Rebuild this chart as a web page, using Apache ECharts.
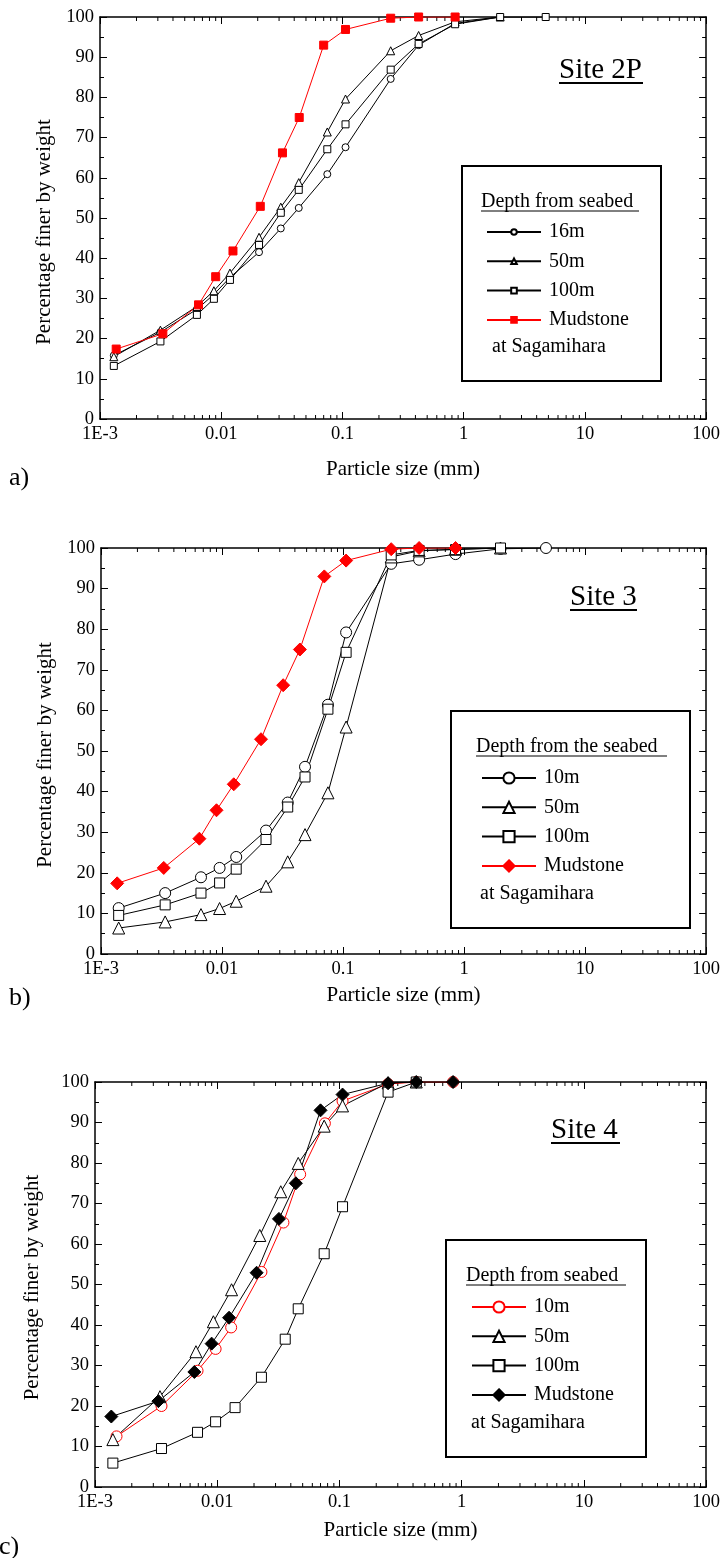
<!DOCTYPE html>
<html>
<head>
<meta charset="utf-8">
<title>Grain size distribution</title>
<script src="https://cdn.jsdelivr.net/npm/echarts@6/dist/echarts.min.js"></script>
<style>
html, body { margin: 0; padding: 0; background: #fff; }
#chart { width: 723px; height: 1558px; }
</style>
</head>
<body>
<div id="chart"></div>
<script>
// ---- data ----
const xTickLabels = ['1E-3', '0.01', '0.1', '1', '10', '100'];
const minorMultipliers = [2, 3, 4, 5, 6, 7, 8, 9];
const decades = [0.001, 0.01, 0.1, 1, 10];

// mudstone at Sagamihara (same sample in all three plots)
const mudSize = [0.00136, 0.0033, 0.0065, 0.009, 0.0125, 0.021, 0.032, 0.044, 0.07, 0.106, 0.25, 0.425, 0.85];
const mudFiner = [17.4, 21.2, 28.4, 35.4, 41.8, 52.9, 66.2, 75.0, 93.0, 96.9, 99.7, 100, 100];

// a) Site 2P
const sizeA = [0.0013, 0.00315, 0.0063, 0.0087, 0.0118, 0.0205, 0.031, 0.0436, 0.075, 0.106, 0.25, 0.425, 0.85, 2.0, 4.75];
const a16m = [15.8, 21.6, 27.3, 31.0, 35.2, 41.5, 47.4, 52.5, 60.9, 67.6, 84.6, 93.0, 98.4, 100];
const a50m = [15.5, 22.1, 28.0, 31.9, 36.3, 45.2, 52.7, 58.8, 71.4, 79.6, 91.6, 95.4, 98.8, 100];
const a100m = [13.2, 19.3, 25.9, 29.9, 34.6, 43.3, 51.3, 57.0, 67.1, 73.3, 86.9, 93.3, 98.2, 100, 100];

// b) Site 3
const sizeB = [0.0014, 0.00339, 0.0067, 0.00955, 0.0131, 0.0231, 0.0349, 0.0485, 0.075, 0.106, 0.25, 0.425, 0.85, 2.0, 4.75];
const b10m = [11.3, 15.0, 18.9, 21.2, 23.9, 30.4, 37.3, 46.1, 61.4, 79.2, 96.1, 97.1, 98.5, 99.8, 100];
const b50m = [6.4, 7.9, 9.7, 11.2, 13.0, 16.7, 22.7, 29.4, 39.7, 55.9, 97.8, 99.3, 99.7, 100];
const b100m = [9.5, 12.1, 15.0, 17.5, 20.9, 28.2, 36.2, 43.6, 60.3, 74.3, 98.3, 99.4, 99.6, 100];

// c) Site 4
const sizeC10 = [0.0015, 0.0035, 0.0069, 0.0097, 0.013, 0.023, 0.0348, 0.0477, 0.076, 0.106, 0.25, 0.425, 0.85];
const c10m = [12.5, 20.0, 28.7, 34.1, 39.4, 53.1, 65.3, 77.2, 89.8, 95.3, 99.5, 100, 100];
const sizeC50 = [0.0014, 0.0034, 0.0067, 0.0093, 0.0131, 0.0223, 0.0331, 0.046, 0.075, 0.106, 0.25, 0.425];
const c50m = [11.7, 22.3, 33.4, 40.8, 48.7, 62.1, 72.9, 79.9, 89.1, 94.1, 99.8, 100];
const sizeC100 = [0.0014, 0.0035, 0.0069, 0.0097, 0.014, 0.023, 0.036, 0.046, 0.075, 0.106, 0.25, 0.425];
const c100m = [5.9, 9.5, 13.5, 16.1, 19.6, 27.1, 36.5, 44.0, 57.6, 69.2, 97.5, 100];

// ---- styling ----
const FONT = '"Liberation Serif", "Times New Roman", serif';
const RED = '#ff0000';

const grids = [
    {left: 100, top: 17, width: 609, height: 402},
    {left: 101, top: 548, width: 611, height: 406},
    {left: 95, top: 1082, width: 613, height: 405}
];
const xNameGap = [40, 31, 33];
const yNameGap = [41, 41, 52];
const yNamePad = [[0, 28, 0, 0], [0, 8, 0, 0], [0, 6, 0, 0]];

let minorTickValues = [];
decades.forEach(d => minorMultipliers.forEach(m => minorTickValues.push([m * d, 0])));

function pairs(xs, ys) {
    return ys.map((y, i) => [xs[i], y]);
}

function curve(name, panel, xs, ys, symbol, size, stroke, fill) {
    return {
        type: 'line',
        name: name,
        xAxisIndex: panel * 2,
        yAxisIndex: panel * 2,
        data: pairs(xs, ys),
        symbol: symbol,
        symbolSize: size,
        showAllSymbol: true,
        lineStyle: {color: stroke, width: 1},
        itemStyle: {color: fill, borderColor: stroke, borderWidth: 1},
        emphasis: {disabled: true},
        animation: false
    };
}

let xAxes = [];
let yAxes = [];
grids.forEach((g, i) => {
    const line = {show: true, onZero: false, lineStyle: {color: '#000', width: 1.5}};
    const tick = {inside: true, length: 7, lineStyle: {color: '#000', width: 1}};
    const minor = {show: true, splitNumber: 2, length: 4, lineStyle: {color: '#000', width: 1}};
    xAxes.push({
        type: 'log', logBase: 10, gridIndex: i, min: 0.001, max: 100, position: 'bottom',
        axisLine: line, axisTick: tick, splitLine: {show: false},
        axisLabel: {
            margin: 6, color: '#000', fontFamily: FONT, fontSize: 18.5,
            formatter: v => xTickLabels[Math.round(Math.log10(v)) + 3]
        },
        name: 'Particle size (mm)', nameLocation: 'middle', nameGap: xNameGap[i],
        nameTextStyle: {color: '#000', fontFamily: FONT, fontSize: 21}
    });
    xAxes.push({
        type: 'log', logBase: 10, gridIndex: i, min: 0.001, max: 100, position: 'top',
        axisLine: line, axisTick: tick, splitLine: {show: false}, axisLabel: {show: false}
    });
    yAxes.push({
        type: 'value', gridIndex: i, min: 0, max: 100, interval: 10, position: 'left',
        axisLine: line, axisTick: tick, minorTick: minor,
        splitLine: {show: false},
        axisLabel: {margin: 6, color: '#000', fontFamily: FONT, fontSize: 18.5},
        name: 'Percentage finer by weight', nameLocation: 'middle', nameGap: yNameGap[i],
        nameTextStyle: {color: '#000', fontFamily: FONT, fontSize: 21, padding: yNamePad[i]}
    });
    yAxes.push({
        type: 'value', gridIndex: i, min: 0, max: 100, interval: 10, position: 'right',
        axisLine: line, axisTick: tick, minorTick: minor,
        splitLine: {show: false}, axisLabel: {show: false}
    });
});

// log minor ticks (2..9 of each decade), top and bottom, pointing inwards
function minorTickSeries(panel) {
    return {
        type: 'custom',
        xAxisIndex: panel * 2,
        yAxisIndex: panel * 2,
        data: minorTickValues,
        silent: true,
        clip: false,
        animation: false,
        renderItem: (params, api) => {
            const b = api.coord([api.value(0), 0]);
            const t = api.coord([api.value(0), 100]);
            const st = {stroke: '#000', lineWidth: 1};
            return {
                type: 'group',
                children: [
                    {type: 'line', shape: {x1: b[0], y1: b[1], x2: b[0], y2: b[1] - 4}, style: st},
                    {type: 'line', shape: {x1: t[0], y1: t[1], x2: t[0], y2: t[1] + 4}, style: st}
                ]
            };
        }
    };
}

const series = [
    minorTickSeries(0), minorTickSeries(1), minorTickSeries(2),
    // a) Site 2P
    curve('a:16m', 0, sizeA, a16m, 'circle', 7, '#000', '#fff'),
    curve('a:50m', 0, sizeA, a50m, 'triangle', 8, '#000', '#fff'),
    curve('a:100m', 0, sizeA, a100m, 'rect', 7, '#000', '#fff'),
    curve('a:Mudstone', 0, mudSize, mudFiner, 'rect', 8, RED, RED),
    // b) Site 3
    curve('b:10m', 1, sizeB, b10m, 'circle', 11, '#000', '#fff'),
    curve('b:50m', 1, sizeB, b50m, 'triangle', 12, '#000', '#fff'),
    curve('b:100m', 1, sizeB, b100m, 'rect', 10, '#000', '#fff'),
    curve('b:Mudstone', 1, mudSize, mudFiner, 'diamond', 13, RED, RED),
    // c) Site 4
    curve('c:10m', 2, sizeC10, c10m, 'circle', 11, RED, '#fff'),
    curve('c:50m', 2, sizeC50, c50m, 'triangle', 12, '#000', '#fff'),
    curve('c:100m', 2, sizeC100, c100m, 'rect', 10, '#000', '#fff'),
    curve('c:Mudstone', 2, mudSize, mudFiner, 'diamond', 13, '#000', '#000')
];

function legendFor(prefix, names, left, top, itemHeight) {
    return {
        orient: 'vertical', left: left, top: top,
        itemWidth: 54, itemHeight: itemHeight, itemGap: 9.3,
        selectedMode: false,
        data: names.map(n => prefix + ':' + n),
        formatter: n => n.split(':')[1],
        textStyle: {color: '#000', fontFamily: FONT, fontSize: 20, lineHeight: 20, padding: [0, 0, 0, 3]}
    };
}

function txt(text, x, y, size, align) {
    return {
        type: 'text', x: x, y: y, silent: true,
        style: {text: text, fill: '#000', font: size + 'px ' + FONT,
                align: align || 'left', verticalAlign: 'middle',
                textAlign: align || 'left', textVerticalAlign: 'middle'}
    };
}

function rule(x1, x2, y, w) {
    return {type: 'line', silent: true, shape: {x1: x1, y1: y, x2: x2, y2: y}, style: {stroke: '#000', lineWidth: w}};
}

function box(x, y, w, h) {
    return {type: 'rect', silent: true, shape: {x: x, y: y, width: w, height: h},
            style: {fill: 'none', stroke: '#000', lineWidth: 2}};
}

const graphic = [
    // a)
    txt('Site 2P', 559, 70, 29), rule(559, 643, 83, 2),
    box(462, 166, 199, 215),
    txt('Depth from seabed', 481, 202, 20), rule(481, 639, 211, 1),
    txt('at Sagamihara', 492, 347, 20),
    txt('a)', 9, 478, 26),
    // b)
    txt('Site 3', 570, 597, 29), rule(570, 637, 610, 2),
    box(451, 711, 239, 217),
    txt('Depth from the seabed', 476, 747, 20), rule(476, 667, 756, 1),
    txt('at Sagamihara', 480, 894, 20),
    txt('b)', 9, 998, 26),
    // c)
    txt('Site 4', 551, 1130, 29), rule(551, 620, 1143, 2),
    box(446, 1240, 200, 217),
    txt('Depth from seabed', 466, 1276, 20), rule(466, 626, 1285, 1),
    txt('at Sagamihara', 471, 1423, 20),
    txt('c)', -1, 1547, 26)
];

const chart = echarts.init(document.getElementById('chart'), null, {renderer: 'canvas'});
chart.setOption({
    backgroundColor: '#fff',
    animation: false,
    grid: grids,
    xAxis: xAxes,
    yAxis: yAxes,
    legend: [
        legendFor('a', ['16m', '50m', '100m', 'Mudstone'], 481, 217, 7),
        legendFor('b', ['10m', '50m', '100m', 'Mudstone'], 476, 763, 14),
        legendFor('c', ['10m', '50m', '100m', 'Mudstone'], 466, 1292, 14)
    ],
    series: series,
    graphic: graphic
});
</script>
</body>
</html>
